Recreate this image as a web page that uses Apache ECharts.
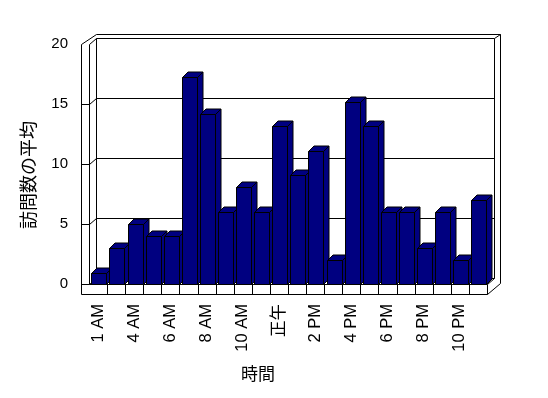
<!DOCTYPE html>
<html>
<head>
<meta charset="utf-8">
<script src="https://cdn.jsdelivr.net/npm/echarts@6/dist/echarts.min.js"></script>
<style>html,body{margin:0;padding:0;background:#fff;}#c{width:548px;height:398px;}</style>
</head>
<body>
<div id="c"></div>
<script>
// Data
var categories = ['1 AM','3 AM','4 AM','5 AM','6 AM','7 AM','8 AM','9 AM','10 AM','11 AM','正午','1 PM','2 PM','3 PM','4 PM','5 PM','6 PM','7 PM','8 PM','9 PM','10 PM','11 PM'];
var visits = [0.9, 3, 5, 4, 4, 17.25, 14.15, 6, 8.1, 6, 13.15, 9.1, 11.1, 2, 15.2, 13.15, 6, 6, 3, 6, 2, 7];
var yTicks = [0, 5, 10, 15, 20];
var xTitle = '時間';
var yTitle = '訪問数の平均';

var FONT = "'Liberation Sans', 'Noto Sans CJK JP', sans-serif";
var BAR = '#000080';
var D1 = [7.4, -5.8];   // inner depth of walls
var D2 = [13, -10.5];   // outer depth of walls
var WALL = 7.6, FLOOR = 9.7;
var BD = [5.5, -5.5];   // bar depth

function s(v){ return Math.round(v) + 0.5; }
function line(x1,y1,x2,y2){
  return {type:'line', shape:{x1:s(x1),y1:s(y1),x2:s(x2),y2:s(y2)}, style:{stroke:'#000', lineWidth:1}, silent:true};
}

function renderFrame(params, api){
  var n = categories.length;
  var bw = api.size([1,0])[0];
  var c0 = api.coord([0,0]);
  var L = c0[0] - bw/2, y0 = c0[1];
  var R = api.coord([n-1,0])[0] + bw/2;
  var yT = api.coord([0, yTicks[yTicks.length-1]])[1];
  var yOT = yT + D1[1] - 4.5;
  var ch = [];
  ch.push(line(L-WALL, yT, L-WALL, y0+FLOOR));
  ch.push(line(L, yT, L, y0));
  ch.push(line(L, y0, R, y0));
  ch.push(line(L-WALL, y0+FLOOR, R, y0+FLOOR));
  for (var i=1;i<=n;i++){ ch.push(line(L+i*bw, y0, L+i*bw, y0+FLOOR)); }
  ch.push(line(R, y0+FLOOR, R+D2[0], y0+FLOOR+D2[1]));
  ch.push(line(R, y0, R+D1[0], y0+D1[1]));
  ch.push(line(R+D1[0], y0+D1[1], R+D1[0], yT+D1[1]));
  ch.push(line(R+D2[0], y0+FLOOR+D2[1], R+D2[0], yOT));
  ch.push(line(L-WALL, yT, L+D1[0], yOT));
  ch.push(line(L, yT, L+D1[0], yT+D1[1]));
  ch.push(line(L+D1[0], yOT, R+D2[0], yOT));
  ch.push(line(L+D1[0], yT+D1[1], R+D1[0], yT+D1[1]));
  ch.push(line(R+D1[0], yT+D1[1], R+D2[0], yOT));
  ch.push(line(L+D1[0], yT+D1[1], L+D1[0], y0+D1[1]));
  ch.push(line(L+D1[0], y0+D1[1], R+D1[0], y0+D1[1]));
  for (var k=0;k<yTicks.length-1;k++){
    var yv = api.coord([0, yTicks[k]])[1];
    ch.push(line(L-WALL, yv, L, yv));
    ch.push(line(L, yv, L+D1[0], yv+D1[1]));
    if (k>0) ch.push(line(L+D1[0], yv+D1[1], R+D1[0], yv+D1[1]));
  }
  return {type:'group', children: ch};
}

function renderBar(params, api){
  var i = api.value(0), v = api.value(1);
  var bw = api.size([1,0])[0];
  var top = api.coord([i, v]);
  var base = api.coord([i, 0]);
  var x0 = Math.round(top[0] - bw*0.37), w = Math.round(bw*0.83);
  var yt = Math.round(top[1]), yb = Math.round(base[1]);
  var dx = BD[0], dy = BD[1];
  var st = {fill:BAR, stroke:'#000', lineWidth:1};
  return {type:'group', children:[
    {type:'polygon', shape:{points:[[x0+0.5,yt+0.5],[x0+w+0.5,yt+0.5],[x0+w+dx+0.5,yt+dy+0.5],[x0+dx+0.5,yt+dy+0.5]]}, style:st},
    {type:'polygon', shape:{points:[[x0+w+0.5,yt+0.5],[x0+w+dx+0.5,yt+dy+0.5],[x0+w+dx+0.5,yb+dy+0.5],[x0+w+0.5,yb+0.5]]}, style:st},
    {type:'rect', shape:{x:x0+0.5, y:yt+0.5, width:w, height:yb-yt}, style:st}
  ]};
}

var chart = echarts.init(document.getElementById('c'), null, {renderer:'canvas'});
chart.setOption({
  backgroundColor:'#fff',
  animation:false,
  grid:{left:89, right:61, top:44, bottom:114},
  xAxis:{
    type:'category', data:categories,
    axisLine:{show:false}, axisTick:{show:false}, splitLine:{show:false},
    axisLabel:{interval:1, rotate:90, margin:20, color:'#000', fontSize:16.5, fontFamily:FONT},
    name:xTitle, nameLocation:'middle', nameGap:83,
    nameTextStyle:{color:'#000', fontSize:17, fontFamily:FONT, padding:[0,60,0,0]}
  },
  yAxis:{
    type:'value', min:0, max:20, interval:5,
    axisLine:{show:false}, axisTick:{show:false}, splitLine:{show:false},
    axisLabel:{margin:21, color:'#000', fontSize:15, fontFamily:FONT},
    name:yTitle, nameLocation:'middle', nameGap:50, nameRotate:90,
    nameTextStyle:{color:'#000', fontSize:18, fontFamily:FONT, padding:[0,22,0,0]}
  },
  series:[
    {type:'custom', renderItem:renderFrame, data:[[0,0]], clip:false, silent:true, z:1},
    {type:'custom', renderItem:renderBar, data:visits.map(function(v,i){return [i,v];}), clip:false, silent:true, z:2}
  ]
});
</script>
</body>
</html>
